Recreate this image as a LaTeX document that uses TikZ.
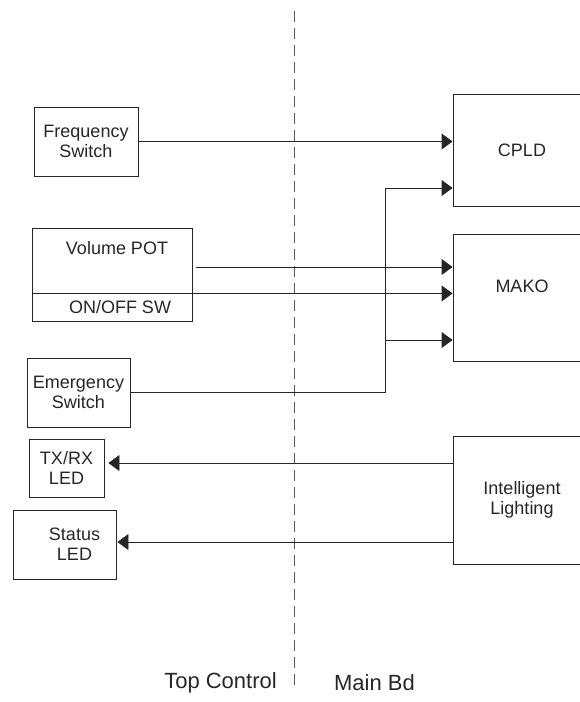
\documentclass[tikz,border=0pt]{standalone}
\usepackage{fontspec}
\setmainfont{Liberation Sans}
\usetikzlibrary{arrows.meta,calc}
\definecolor{ink}{gray}{0.15}
\begin{document}
\begin{tikzpicture}[x=1pt,y=-1pt,
  box/.style={draw=ink,line width=0.9pt,inner sep=0pt,align=center,text=ink,
    font=\fontsize{18}{20}\selectfont},
  arr/.style={draw=ink,line width=0.9pt,-{Triangle[length=11pt,width=16pt]}},
  wire/.style={draw=ink,line width=0.9pt},
  lbl/.style={text=ink,font=\fontsize{22}{24}\selectfont,inner sep=0pt}]
\useasboundingbox (0,0) rectangle (580,702);
% divider
\draw[gray!70!black,line width=0.9pt,dash pattern=on 10.5pt off 6.5pt] (294,11) coordinate (dtop) -- (294,690) coordinate (dbot);
% left boxes
\node[box,minimum width=104pt,minimum height=69pt] (freq) at (86,141.5) {Frequency\\Switch};
\node[box,minimum width=160pt,minimum height=65pt] (vol) at (112,260.5) {\hspace*{10pt}Volume POT\\[6pt]};
\node[box,minimum width=160pt,minimum height=28pt] (onoff) at (112,307) {\raisebox{-3pt}{\hspace*{16pt}ON/OFF SW}};
\node[box,minimum width=103pt,minimum height=69pt] (emerg) at (78.5,392.5) {Emergency\\Switch};
\node[box,minimum width=75pt,minimum height=58pt] (txrx) at (66.5,468) {TX/RX\\LED};
\node[box,minimum width=103pt,minimum height=69pt] (status) at (64.5,544.5) {\hspace*{20pt}Status\\\hspace*{20pt}LED};
% right boxes
\node[box,minimum width=129pt,minimum height=112pt] (cpld) at (517.5,150) {\hspace*{9pt}CPLD};
\node[box,minimum width=129pt,minimum height=127pt] (mako) at (517.5,297.5) {\hspace*{9pt}\raisebox{5pt}[0pt][0pt]{MAKO}};
\node[box,minimum width=129pt,minimum height=128pt] (intel) at (517.5,500) {\hspace*{9pt}Intelligent\\\hspace*{9pt}Lighting};
% connectors
\draw[arr] (freq.east) -- (freq.east -| cpld.west);
\coordinate (vp) at ($(vol.east)+(4,6.5)$);
\draw[arr] (vp) -- (vp -| mako.west);
\draw[arr] (vol.south east) -- (vol.south east -| mako.west);
\coordinate (jx) at (385,392.5);
\draw[wire] (emerg.east) -- (jx);
\coordinate (jc) at ($(cpld.west)+(0,38)$);
\draw[arr] (jx) |- (jc);
\coordinate (jm) at ($(mako.west)+(0,42.5)$);
\draw[arr] (jx |- jm) -- (jm);
\coordinate (i1) at ($(intel.west)+(0,-37)$);
\draw[arr] (i1) -- ($(i1 -| txrx.east)+(4,0)$);
\coordinate (i2) at ($(intel.west)+(0,42)$);
\draw[arr] (i2) -- ($(i2 -| status.east)+(1,0)$);
% bottom labels
\node[lbl] (topc) at (220.5,683) {Top Control};
\node[lbl] (mainb) at (374.5,683) {Main Bd};
\end{tikzpicture}
\end{document}
